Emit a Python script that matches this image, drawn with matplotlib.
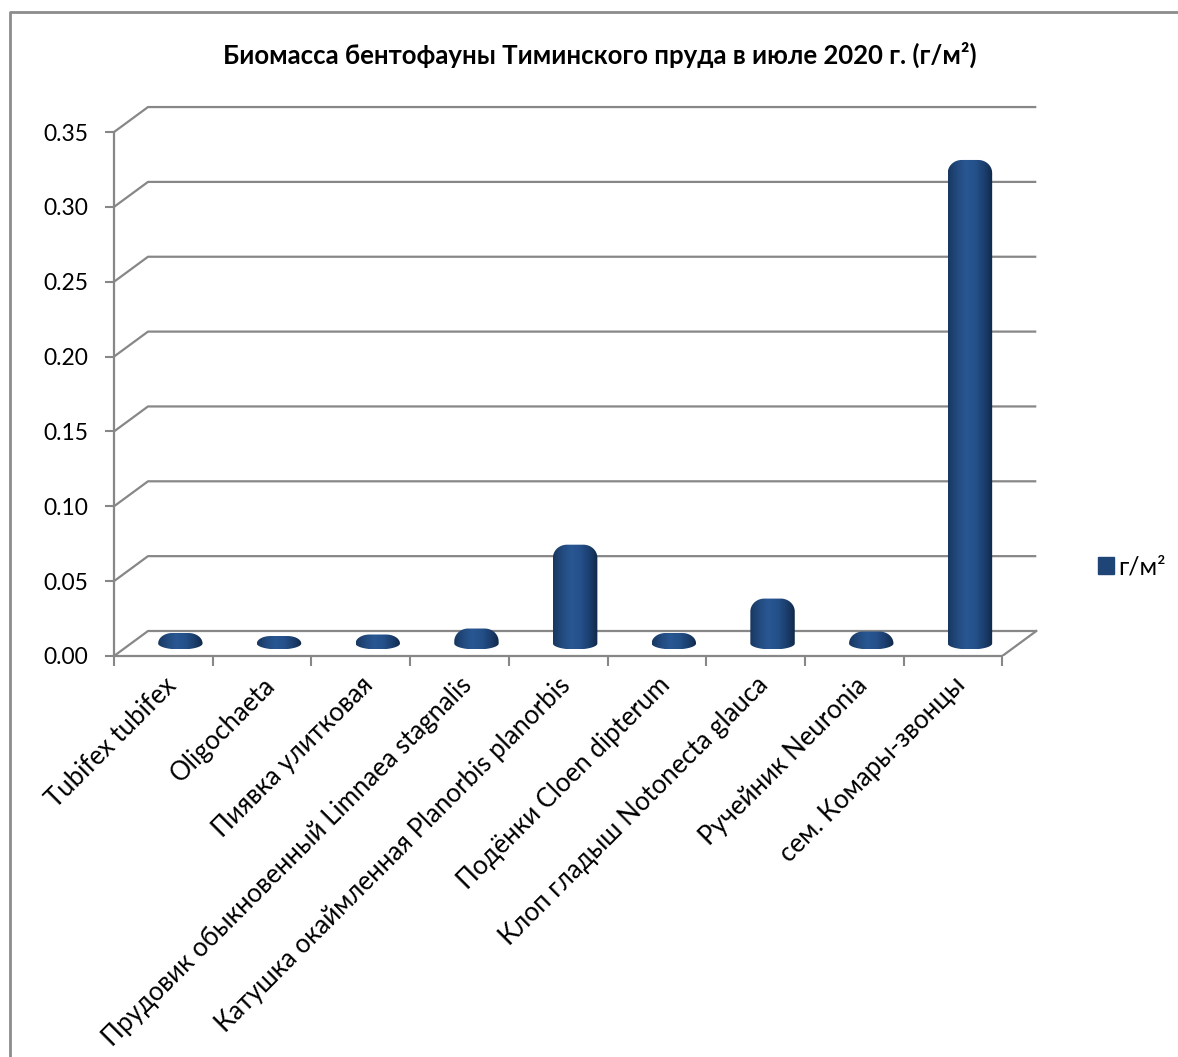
import numpy as np
import matplotlib.pyplot as plt
from matplotlib.patches import PathPatch, Patch
from matplotlib.path import Path
from matplotlib.colors import LinearSegmentedColormap
from matplotlib.lines import Line2D

plt.rcParams['font.family'] = ['Lato', 'Noto Sans', 'DejaVu Sans']

categories = ['Tubifex tubifex', 'Oligochaeta', 'Пиявка улитковая',
              'Прудовик обыкновенный Limnaea stagnalis',
              'Катушка окаймленная Planorbis planorbis',
              'Подёнки Cloen dipterum', 'Клоп гладыш Notonecta glauca',
              'Ручейник Neuronia', 'сем. Комары-звонцы']
biomass = [0.003, 0.001, 0.002, 0.006, 0.062, 0.003, 0.026, 0.004, 0.319]
yticks = [0.00, 0.05, 0.10, 0.15, 0.20, 0.25, 0.30, 0.35]
title = 'Биомасса бентофауны Тиминского пруда в июле 2020 г. (г/м²)'
series_name = 'г/м²'

W, H = 1178, 1057
px_x = 98.7    # pixels per category
px_y = 1497.0  # pixels per unit of value
grid_col = '#878787'

fig = plt.figure(figsize=(W / 100, H / 100), dpi=100)
ax = fig.add_axes([114 / W, (H - 656) / H, 9.4 * px_x / W, 0.37 * px_y / H])

# depth of the 3d box (back wall offset)
dx = 34 / px_x
dy = 25 / px_y

# walls / grid
for t in yticks:
    ax.plot([-0.5, -0.5 + dx, 8.5 + dx], [t, t + dy, t + dy],
            color=grid_col, lw=1.6, zorder=1, solid_capstyle='butt')
ax.plot([8.5, 8.5 + dx], [0, dy], color=grid_col, lw=1.6, zorder=1)

# cylinders
cmap = LinearSegmentedColormap.from_list(
    'cyl', ['#183760', '#224a7e', '#295792', '#25518b', '#1c4070', '#102849'])
w = 0.45
e = 6 / px_y       # half height of the bottom ellipse
rx = 14 / px_x
ry = 13 / px_y
base = dy / 2
grad = np.linspace(0, 1, 256).reshape(1, -1)
for i, v in enumerate(biomass):
    cx = i + dx / 2
    top = base + v + e
    r = min(ry, top - base)
    th = np.linspace(np.pi, 2 * np.pi, 40)
    xs = list(cx + w / 2 * np.cos(th))
    ys = list(base + e * np.sin(th))
    th = np.linspace(0, np.pi / 2, 20)
    xs += list(cx + w / 2 - rx + rx * np.cos(th))
    ys += list(top - r + r * np.sin(th))
    th = np.linspace(np.pi / 2, np.pi, 20)
    xs += list(cx - w / 2 + rx + rx * np.cos(th))
    ys += list(top - r + r * np.sin(th))
    verts = np.column_stack([xs + [xs[0]], ys + [ys[0]]])
    patch = PathPatch(Path(verts, closed=True), facecolor='none',
                      edgecolor='none', zorder=3)
    ax.add_patch(patch)
    im = ax.imshow(grad, cmap=cmap, aspect='auto', zorder=3,
                   extent=[cx - w / 2, cx + w / 2, base - e, top],
                   interpolation='bilinear')
    im.set_clip_path(patch)

ax.set_xlim(-0.5, 8.9)
ax.set_ylim(0, 0.37)
ax.patch.set_visible(False)

for s in ['top', 'right']:
    ax.spines[s].set_visible(False)
ax.spines['left'].set_bounds(0, 0.35)
ax.spines['bottom'].set_bounds(-0.5, 8.5)
for s in ['left', 'bottom']:
    ax.spines[s].set_color(grid_col)
    ax.spines[s].set_linewidth(1.6)
    ax.spines[s].set_zorder(2)

ax.set_yticks(yticks, labels=[f'{t:.2f}' for t in yticks])
ax.tick_params(axis='y', length=6.5, width=1.5, color=grid_col,
               labelsize=16.5, pad=12)
ax.set_xticks(np.arange(-0.5, 9, 1), labels=[])
ax.set_xticks(np.arange(len(categories)), labels=categories, minor=True)
ax.tick_params(axis='x', which='major', length=7, width=1.5, color=grid_col)
ax.tick_params(axis='x', which='minor', length=0, pad=12, labelsize=18.5,
               labelrotation=45)
for lbl in ax.get_xticklabels(minor=True):
    lbl.set_ha('right')
    lbl.set_rotation_mode('anchor')

fig.text(600 / W, 1 - 55 / H, title, ha='center', va='center',
         fontsize=18.5, fontweight='bold')

ax.legend(handles=[Patch(facecolor='#1f4577', edgecolor='#1f4577', label=series_name)],
          loc='center left', bbox_to_anchor=(1085 / W, 1 - 567 / H),
          bbox_transform=fig.transFigure, frameon=False, fontsize=18,
          handlelength=0.65, handleheight=0.65, handletextpad=0.2, borderpad=0)

fig.add_artist(Line2D([10 / W, 10 / W, 1], [0, 1 - 12 / H, 1 - 12 / H],
                      transform=fig.transFigure, color='#8c8c8c', lw=2))

fig.savefig('out.png', dpi=100)
